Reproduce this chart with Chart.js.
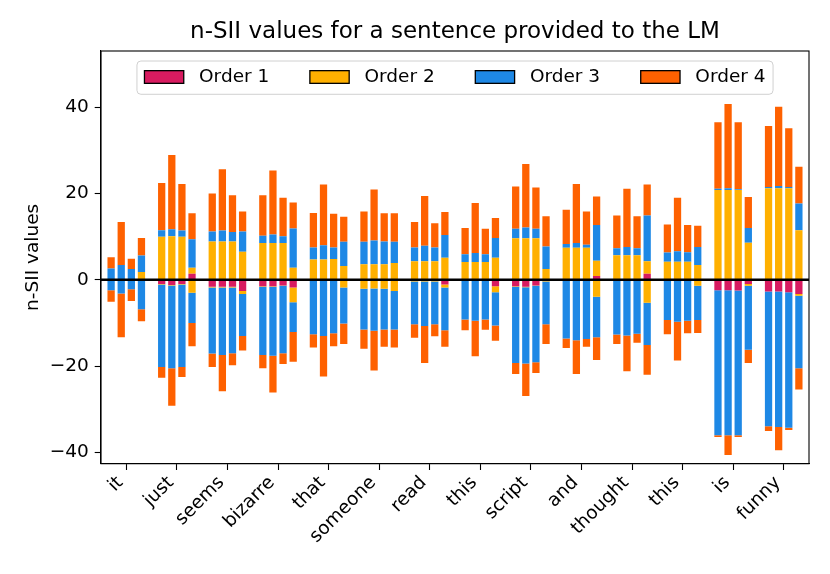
<!DOCTYPE html>
<html>
<head>
<meta charset="utf-8">
<script src="https://cdn.jsdelivr.net/npm/chart.js@4.4.1/dist/chart.umd.min.js"></script>
<style>
  body { margin: 0; background: #fff; }
  #wrap { width: 830px; height: 574px; }
</style>
</head>
<body>
<div id="wrap"><canvas id="myChart"></canvas></div>
<script>
// tokens of the sentence, one group of 4 bars per token
const tokens = ['it', 'just', 'seems', 'bizarre', 'that', 'someone', 'read',
    'this', 'script', 'and', 'thought', 'this', 'is', 'funny'];
const orderLabels = ['Order 1', 'Order 2', 'Order 3', 'Order 4'];
const orderColors = ['#d81b60', '#ffb000', '#1e88e5', '#fe6100'];
const yTicks = [-40, -20, 0, 20, 40];

// each row: the 4 bars of one token (positive / negative parts)
const order1Pos = [
    [0, 0, 0, 0], [0, 0, 0, 1.4], [0, 0, 0, 0], [0, 0, 0, 0], [0, 0, 0, 0],
    [0, 0, 0, 0], [0, 0, 0, 0], [0, 0, 0, 0], [0, 0, 0, 0], [0, 0, 0, 0.9],
    [0, 0, 0, 1.4], [0, 0, 0, 0], [0, 0, 0, 0], [0, 0, 0, 0]
];
const order1Neg = [
    [0, 0, 0, 0], [-1.0, -1.2, -1.0, 0], [-1.6, -1.6, -1.6, -2.6], [-1.5, -1.5, -1.3, -1.8],
    [0, 0, 0, 0], [0, 0, 0, 0], [0, 0, 0, -1.1], [0, 0, 0, -1.5],
    [-1.5, -1.6, -1.3, 0], [0, 0, 0, 0], [0, 0, 0, 0], [0, 0, 0, 0],
    [-2.4, -2.4, -2.5, -1.0], [-2.7, -2.7, -2.9, -3.3]
];
const order2Pos = [
    [0, 0, 0, 1.8], [10.0, 10.1, 10.0, 1.4], [8.9, 8.9, 8.9, 6.5], [8.5, 8.5, 8.5, 2.8],
    [4.7, 4.7, 4.8, 3.2], [3.6, 3.6, 3.6, 3.9], [4.3, 4.3, 4.3, 5.1], [4.1, 4.1, 4.1, 5.1],
    [9.6, 9.6, 9.6, 2.5], [7.4, 7.4, 7.4, 3.5], [5.7, 5.7, 5.7, 2.9], [4.2, 4.2, 4.2, 3.4],
    [20.8, 20.8, 20.8, 8.6], [21.2, 21.2, 21.2, 11.5]
];
const order2Neg = [
    [0, 0, 0, -0.3], [-0.1, -0.1, -0.1, -3.0], [-0.2, -0.2, -0.2, -0.7], [-0.1, -0.1, -0.1, -3.4],
    [-0.3, -0.3, -0.3, -1.8], [-2.1, -2.0, -2.1, -2.6], [-0.4, -0.4, -0.4, -0.7], [-0.2, -0.2, -0.2, -1.4],
    [-0.1, -0.1, -0.1, -0.4], [-0.2, -0.2, -0.2, -3.9], [-0.3, -0.3, -0.3, -5.3], [-0.2, -0.2, -0.2, -1.4],
    [0, 0, 0, -0.4], [0, 0, 0, -0.4]
];
const order3Pos = [
    [2.6, 3.4, 2.5, 3.8], [1.5, 1.6, 1.4, 6.6], [2.3, 2.5, 2.2, 4.7], [1.7, 2.0, 1.6, 9.1],
    [2.8, 3.3, 2.7, 5.6], [5.2, 5.5, 5.3, 4.9], [3.2, 3.6, 3.2, 5.3], [1.8, 2.1, 1.8, 4.6],
    [2.2, 2.5, 2.2, 5.2], [0.9, 1.1, 0.7, 8.3], [1.6, 1.9, 1.6, 10.6], [2.1, 2.4, 2.2, 4.2],
    [0.3, 0.4, 0.2, 3.4], [0.3, 0.5, 0.3, 6.2]
];
const order3Neg = [
    [-2.4, -3.2, -2.2, -6.5], [-19.1, -19.2, -19.1, -7.0], [-15.3, -15.6, -15.2, -9.7], [-15.8, -16.0, -15.6, -6.9],
    [-12.3, -12.7, -12.1, -8.3], [-9.4, -9.8, -9.4, -8.9], [-9.9, -10.3, -9.9, -9.9], [-9.0, -9.3, -9.0, -7.7],
    [-17.7, -17.7, -17.7, -9.9], [-13.4, -13.8, -13.5, -9.4], [-12.4, -12.6, -12.2, -9.8], [-9.1, -9.5, -9.3, -7.9],
    [-33.6, -33.6, -33.5, -14.8], [-31.2, -31.4, -31.4, -16.8]
];
const order4Pos = [
    [2.6, 10.0, 2.4, 4.1], [10.9, 17.2, 10.8, 6.0], [8.8, 14.2, 8.5, 4.6], [9.4, 14.8, 8.9, 6.0],
    [8.0, 14.1, 7.8, 5.8], [7.0, 11.8, 6.5, 6.6], [5.9, 11.5, 5.6, 5.3], [6.1, 11.6, 5.9, 4.6],
    [9.8, 14.7, 9.6, 7.0], [7.9, 13.7, 7.7, 6.6], [7.6, 13.5, 7.4, 7.2], [6.5, 12.4, 6.3, 4.9],
    [15.4, 19.5, 15.5, 7.2], [14.1, 18.4, 13.6, 8.5]
];
const order4Neg = [
    [-2.7, -10.1, -2.7, -2.8], [-2.5, -8.7, -2.3, -5.4], [-3.1, -8.4, -2.8, -3.4], [-3.1, -8.5, -2.5, -6.9],
    [-3.1, -9.4, -3.0, -4.8], [-4.5, -9.2, -4.0, -4.2], [-3.1, -8.6, -2.8, -3.8], [-2.5, -8.2, -2.4, -3.5],
    [-2.5, -7.5, -2.5, -4.6], [-2.2, -7.8, -1.8, -5.3], [-2.2, -8.3, -2.1, -6.9], [-3.3, -9.0, -2.9, -3.0],
    [-0.4, -4.6, -0.4, -3.1], [-1.1, -5.4, -0.5, -4.9]
];

const posValues = [order1Pos, order2Pos, order3Pos, order4Pos];
const negValues = [order1Neg, order2Neg, order3Neg, order4Neg];

const datasets = [];
for (let bar = 0; bar < 4; bar++) {
    for (let o = 0; o < 4; o++) {
        [posValues[o], negValues[o]].forEach(rows => {
            datasets.push({
                label: orderLabels[o],
                stack: 'bar' + bar,
                data: rows.map(r => r[bar]),
                backgroundColor: orderColors[o],
                borderWidth: 0
            });
        });
    }
}

const FONT = '"DejaVu Sans", sans-serif';
const TEXT_SIZE = 18.5;

// zero line, axes box and the legend box inside the plot
const framePlugin = {
    id: 'frame',
    afterDatasetsDraw(chart) {
        const { ctx, chartArea: a } = chart;
        const y0 = chart.scales.y.getPixelForValue(0);
        ctx.save();
        ctx.strokeStyle = '#000';
        ctx.lineWidth = 2.6;
        ctx.beginPath();
        ctx.moveTo(a.left, y0);
        ctx.lineTo(a.right, y0);
        ctx.stroke();
        ctx.lineWidth = 1.1;
        ctx.strokeRect(a.left, a.top, a.right - a.left, a.bottom - a.top);

        // legend
        ctx.font = TEXT_SIZE + 'px ' + FONT;
        const swW = 39.3, swH = 12.7, gap = 15.3, colGap = 40.6, pad = 7.5;
        const widths = orderLabels.map(t => ctx.measureText(t).width);
        let total = 2 * pad + colGap * (orderLabels.length - 1);
        widths.forEach(w => { total += swW + gap + w; });
        const boxL = (a.left + a.right) / 2 - total / 2;
        const boxT = a.top + 10;
        const boxH = 33.3;
        ctx.beginPath();
        ctx.roundRect(boxL, boxT, total, boxH, 4);
        ctx.fillStyle = 'rgba(255,255,255,0.8)';
        ctx.fill();
        ctx.strokeStyle = '#d0d0d0';
        ctx.lineWidth = 1;
        ctx.stroke();
        const cy = boxT + 16;
        let x = boxL + pad;
        orderLabels.forEach((label, i) => {
            ctx.fillStyle = orderColors[i];
            ctx.fillRect(x, cy - swH / 2, swW, swH);
            ctx.strokeStyle = '#000';
            ctx.lineWidth = 1.3;
            ctx.strokeRect(x, cy - swH / 2, swW, swH);
            ctx.fillStyle = '#000';
            ctx.textBaseline = 'middle';
            ctx.textAlign = 'left';
            ctx.fillText(label, x + swW + gap, cy);
            x += swW + gap + widths[i] + colGap;
        });
        ctx.restore();
    }
};

document.addEventListener('DOMContentLoaded', () => {
    Chart.defaults.font.family = FONT;
    Chart.defaults.color = '#000';

    new Chart('myChart', {
        type: 'bar',
        data: {
            labels: tokens,
            datasets: datasets
        },
        options: {
            responsive: true,
            maintainAspectRatio: false,
            animation: false,
            categoryPercentage: 0.8,
            barPercentage: 0.72,
            layout: {
                padding: { left: 0, right: 21, top: 0, bottom: 0 }
            },
            plugins: {
                legend: { display: false },
                tooltip: { enabled: false },
                title: {
                    display: true,
                    fullSize: false,
                    text: 'n-SII values for a sentence provided to the LM',
                    font: { size: 23, weight: 'normal' },
                    color: '#000',
                    padding: { top: 18.5, bottom: 4.9 }
                }
            },
            scales: {
                x: {
                    stacked: true,
                    afterFit: (scale) => { scale.height = 110.3; },
                    grid: {
                        offset: false,
                        drawOnChartArea: false,
                        tickLength: 6.3,
                        tickColor: '#000',
                        tickWidth: 1.1
                    },
                    border: { color: '#000', width: 1.1 },
                    ticks: {
                        autoSkip: false,
                        minRotation: 45,
                        maxRotation: 45,
                        padding: 2,
                        labelOffset: -6,
                        color: '#000',
                        font: { size: TEXT_SIZE }
                    }
                },
                y: {
                    stacked: true,
                    min: -42.6,
                    max: 53.0,
                    afterFit: (scale) => { scale.width = 101; },
                    afterBuildTicks: (scale) => {
                        scale.ticks = yTicks.map(v => ({ value: v }));
                    },
                    grid: {
                        drawOnChartArea: false,
                        tickLength: 6.3,
                        tickColor: '#000',
                        tickWidth: 1.1
                    },
                    border: { color: '#000', width: 1.1 },
                    ticks: {
                        padding: 6,
                        color: '#000',
                        font: { size: TEXT_SIZE },
                        callback: (v) => (v < 0 ? '\u2212' + Math.abs(v) : String(v))
                    },
                    title: {
                        display: true,
                        text: 'n-SII values',
                        color: '#000',
                        font: { size: TEXT_SIZE },
                        padding: { top: 22, bottom: 0 }
                    }
                }
            }
        },
        plugins: [framePlugin]
    });
});
</script>
</body>
</html>
